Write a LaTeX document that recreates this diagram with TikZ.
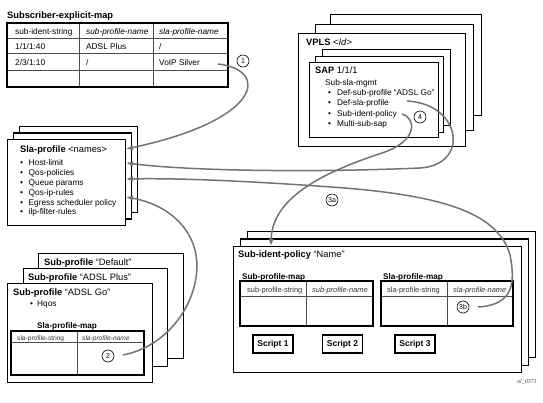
\documentclass[tikz,border=0pt]{standalone}
\usepackage{fontspec}
\setmainfont{Liberation Sans}
\newfontfamily\tagfont{Liberation Serif}
\usepackage{tikz}
\usetikzlibrary{positioning}
\usetikzlibrary{arrows.meta}
\newcommand{\itm}[2][8.5pt]{\makebox[#1][l]{\textbullet}#2}

\begin{document}
\begin{tikzpicture}[x=1pt, y=-1pt,
      type-frame/.style={draw, fill=white, line width=1.1pt, anchor=north west, inner sep=0pt},
      type-title/.style={anchor=west, inner sep=0pt, text height=.72em, text depth=0pt, font=\fontsize{9.3}{11}\selectfont},
      type-label/.style={type-title, font=\bfseries\fontsize{8.2}{10}\selectfont},
      type-text/.style={anchor=west, inner sep=0pt, text height=.72em, text depth=0pt, font=\fontsize{8.3}{10}\selectfont},
      type-head/.style={type-text, font=\fontsize{7.4}{9}\selectfont, text=black!80},
      type-small/.style={type-text, font=\fontsize{6.6}{8}\selectfont, text=black!80},
      type-num/.style={circle, draw, line width=.6pt, inner sep=0pt, minimum size=12pt, font=\fontsize{7}{8}\selectfont},
      type-script/.style={draw, line width=1.1pt, inner sep=0pt, minimum width=40pt, minimum height=18pt, font=\bfseries\fontsize{8.5}{10}\selectfont},
      type-grid/.style={line width=.6pt, draw=black!70},
      type-link/.style={draw=black!55, line width=1.5pt, -{Latex[length=7pt,width=5.5pt]}}
    ]
      \useasboundingbox (0,0) rectangle (543,403);

      % subscriber explicit map
      \node[type-title] (sem-title) at (7,15) {\textbf{Subscriber-explicit-map}};
      \draw[type-grid] (79,23) -- (79,87) (153,23) -- (153,87) (7,38) -- (228,38) (7,53) -- (228,53) (7,70) -- (228,70);
      \draw[line width=1.1pt] (7,23) rectangle (228,87);
      \node[type-text] (sem-h1) at (15,31) {sub-ident-string};
      \node[type-text] (sem-h2) at (86,31) {\emph{sub-profile-name}};
      \node[type-text] (sem-h3) at (159,31) {\emph{sla-profile-name}};
      \node[type-text] (sem-a1) at (15,46) {1/1/1:40};
      \node[type-text] (sem-a2) at (86,46) {ADSL Plus};
      \node[type-text] (sem-a3) at (159,46) {/};
      \node[type-text] (sem-b1) at (15,62) {2/3/1:10};
      \node[type-text] (sem-b2) at (86,62) {/};
      \node[type-text] (sem-b3) at (159,62) {VoIP Silver};
      \node[type-num] (num-1) at (243,61) {1};

      % sla-profile
      \foreach \i in {2,1,0}
        \node[type-frame, minimum width=118, minimum height=86] (sla-\i) at (7+6*\i,139-6.5*\i) {};
      \node[type-title] (sla-title) at (20,149) {\textbf{Sla-profile} <names>};
      \foreach \t [count=\i] in {Host-limit, Qos-policies, Queue params, Qos-ip-rules, Egress scheduler policy, ilp-filter-rules}
        \node[type-text] (sla-item-\i) at (20,152+9.9*\i) {\itm{\t}};
      \foreach \n/\y in {1/149, 2/163, 3/179, 4/197}
        \coordinate (sla-in-\n) at (126,\y);

      % vpls and sap
      \foreach \i/\x/\y/\w/\h in {2/330/14/151/101, 1/315/24/158/106, 0/298/33/167/113}
        \node[type-frame, minimum width=\w, minimum height=\h] (vpls-\i) at (\x,\y) {};
      \node[type-title] (vpls-title) at (306,42) {\textbf{VPLS} <\emph{Id}>};
      \foreach \i/\x/\y/\w/\h in {2/322/49/128/76, 1/315/56/128/76, 0/309/62/129/75}
        \node[type-frame, minimum width=\w, minimum height=\h] (sap-\i) at (\x,\y) {};
      \node[type-title] (sap-title) at (315,70) {\textbf{SAP} 1/1/1};
      \node[type-text] (sap-mgmt) at (325,82) {Sub-sla-mgmt};
      \foreach \t [count=\i] in {Def-sub-profile ``ADSL Go'', Def-sla-profile, Sub-ident-policy, Multi-sub-sap}
        \node[type-text] (sap-item-\i) at (328,81+10.5*\i) {\itm[9pt]{\t}};
      \node[type-num] (num-4) at (420,117) {4};
      \coordinate (sap-sla-out) at (407,101);
      \coordinate (sap-sip-out) at (402,114);

      % sub-profile
      \foreach \i/\x/\y/\w/\h in {2/38/253/145/105, 1/23/268/144/98, 0/7/283/145/99}
        \node[type-frame, minimum width=\w, minimum height=\h] (sp-\i) at (\x,\y) {};
      \node[type-title] (sp-title-2) at (44,262) {\textbf{Sub-profile} ``Default''};
      \node[type-title] (sp-title-1) at (28,277) {\textbf{Sub-profile} ``ADSL Plus''};
      \node[type-title] (sp-title-0) at (13,292) {\textbf{Sub-profile} ``ADSL Go''};
      \node[type-text] (sp-hqos) at (30,303) {\itm[7pt]{Hqos}};
      \node[type-label] (sp-map) at (37,325) {Sla-profile-map};
      \draw[type-grid] (77,331) -- (77,375) (11,342) -- (144,342);
      \draw[line width=1.1pt] (11,331) rectangle (144,375);
      \node[type-small] (sp-h1) at (17,337) {sla-profile-string};
      \node[type-small] (sp-h2) at (82,337) {\emph{sla-profile-name}};
      \node[type-num] (num-2) at (108,356) {2};
      \coordinate (sp-out) at (123,355);

      % sub-ident-policy
      \foreach \i in {2,1,0}
        \node[type-frame, minimum width=288, minimum height=126] (sip-\i) at (233+7*\i,246-7.5*\i) {};
      \node[type-title] (sip-title) at (238,254) {\textbf{Sub-ident-policy} ``Name''};
      \node[type-label] (sip-spmap) at (242,276) {Sub-profile-map};
      \node[type-label] (sip-slamap) at (383,276) {Sla-profile-map};
      \draw[type-grid] (306,281) -- (306,326) (240,296) -- (373,296) (447,281) -- (447,326) (381,296) -- (513,296);
      \draw[line width=1.1pt] (240,281) rectangle (373,326) (381,281) rectangle (513,326);
      \node[type-head] (sip-h1) at (247,289) {sub-profile-string};
      \node[type-head] (sip-h2) at (312,289) {\emph{sub-profile-name}};
      \node[type-head] (sip-h3) at (387,289) {sla-profile-string};
      \node[type-head] (sip-h4) at (453,289) {\emph{sla-profile-name}};
      \node[type-script] (script-1) at (273,344) {Script 1};
      \node[type-script] (script-2) at (342.5,344) {Script 2};
      \node[type-script] (script-3) at (415,344) {Script 3};
      \node[type-num] (num-3b) at (463,307) {3b};
      \coordinate (sip-in) at (271,246);
      \coordinate (sip-out) at (478,307);

      \node[type-num] (num-3a) at (332,200) {3a};
      \node[anchor=west, inner sep=0pt, font=\tagfont\itshape\fontsize{6}{7}\selectfont, text=black!70] (fig-tag) at (517,382) {al\_0371};

      % links
      \draw[type-link] (sem-b3.east) ++(18,2) coordinate (sem-out) .. controls (270,70) and (262,120) .. (sla-in-1);
      \draw[type-link] (sap-sla-out) .. controls (462,104) and (470,165) .. (420,168) .. controls (330,172) and (200,172) .. (sla-in-2);
      \draw[type-link] (sip-out) .. controls (512,305) and (516,285) .. (510,255) .. controls (498,212) and (440,196) .. (345,188) .. controls (250,181) and (180,178) .. (sla-in-3);
      \draw[type-link] (sp-out) .. controls (175,345) and (205,290) .. (195,250) .. controls (187,220) and (160,203) .. (sla-in-4);
      \draw[type-link] (sap-sip-out) .. controls (416,118) and (418,140) .. (385,152) .. controls (330,170) and (272,195) .. (sip-in);
    \end{tikzpicture}
\end{document}
